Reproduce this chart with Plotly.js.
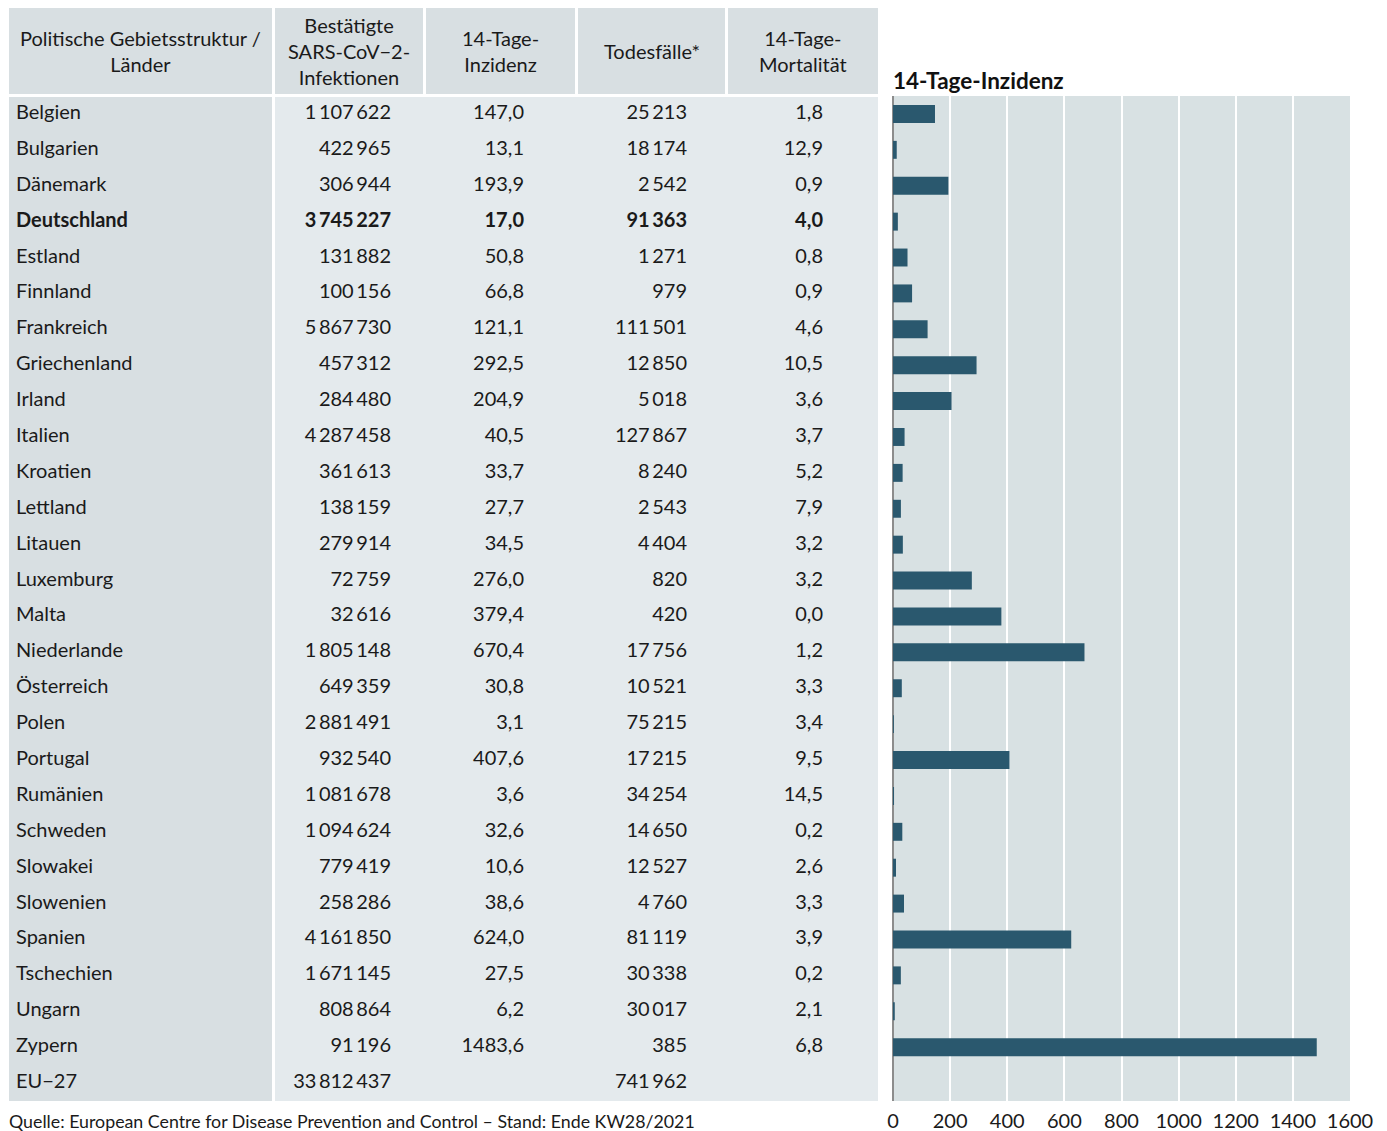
<!DOCTYPE html>
<html>
<head>
<meta charset="utf-8">
<script src="https://cdn.plot.ly/plotly-3.0.1.min.js"></script>
<style>html,body{margin:0;padding:0;background:#fff;}</style>
</head>
<body>
<div id="chart" style="width:1387px;height:1131px;"></div>
<script>
// ---------- data ----------
const countries = ["Belgien","Bulgarien","Dänemark","Deutschland","Estland","Finnland","Frankreich","Griechenland","Irland","Italien","Kroatien","Lettland","Litauen","Luxemburg","Malta","Niederlande","Österreich","Polen","Portugal","Rumänien","Schweden","Slowakei","Slowenien","Spanien","Tschechien","Ungarn","Zypern","EU\u221227"];
const infections = [1107622,422965,306944,3745227,131882,100156,5867730,457312,284480,4287458,361613,138159,279914,72759,32616,1805148,649359,2881491,932540,1081678,1094624,779419,258286,4161850,1671145,808864,91196,33812437];
const incidence14 = [147.0,13.1,193.9,17.0,50.8,66.8,121.1,292.5,204.9,40.5,33.7,27.7,34.5,276.0,379.4,670.4,30.8,3.1,407.6,3.6,32.6,10.6,38.6,624.0,27.5,6.2,1483.6,null];
const deaths = [25213,18174,2542,91363,1271,979,111501,12850,5018,127867,8240,2543,4404,820,420,17756,10521,75215,17215,34254,14650,12527,4760,81119,30338,30017,385,741962];
const mortality14 = [1.8,12.9,0.9,4.0,0.8,0.9,4.6,10.5,3.6,3.7,5.2,7.9,3.2,3.2,0.0,1.2,3.3,3.4,9.5,14.5,0.2,2.6,3.3,3.9,0.2,2.1,6.8,null];
const headers = ["Politische Gebietsstruktur /<br>Länder","Bestätigte<br>SARS-CoV\u22122-<br>Infektionen","14-Tage-<br>Inzidenz","Todesfälle*","14-Tage-<br>Mortalität"];
const boldRow = "Deutschland";
const chartTitle = "14-Tage-Inzidenz";
const sourceNote = "Quelle: European Centre for Disease Prevention and Control \u2013 Stand: Ende KW28/2021";

// ---------- helpers ----------
const W = 1387, H = 1131;
const FONT = "Lato, 'Noto Sans', sans-serif";
const FS = 20;
const px = x => x / W;
const py = y => 1 - y / H;
const fmtInt = n => String(n).replace(/\B(?=(\d{3})+(?!\d))/g, "\u2009");
const fmtDec = v => (v === null || v === undefined) ? "" : v.toFixed(1).replace(".", ",");
const emph = (arr) => arr.map((t, i) => countries[i] === boldRow ? "<b>" + t + "</b>" : t);

// column geometry (pixels)
const cols = [[9,272],[275,423],[426,575],[578,725],[728,878]];
const headTop = 8, headBot = 94, bodyTop = 97, bodyBot = 1101;
const plotTop = 96, plotBot = 1101, plotL = 893, plotR = 1350;

const textTrace = (vals, xpos, pos) => ({
  type: "scatter", mode: "text", xaxis: "x2", yaxis: "y",
  x: countries.map(() => xpos), y: countries, text: emph(vals),
  textposition: pos, cliponaxis: false, hoverinfo: "skip",
  textfont: {family: FONT, size: FS, color: "#1a1a1a"}, showlegend: false
});

const traces = [
  {
    type: "bar", orientation: "h", x: incidence14, y: countries,
    xaxis: "x", yaxis: "y", width: 0.5,
    marker: {color: "#2a586e"}, hoverinfo: "skip", showlegend: false
  },
  textTrace(countries, 16, "middle right"),
  textTrace(infections.map(fmtInt), 391, "middle left"),
  textTrace(incidence14.map(fmtDec), 524, "middle left"),
  textTrace(deaths.map(fmtInt), 687, "middle left"),
  textTrace(mortality14.map(fmtDec), 823, "middle left")
];

const shapes = [];
const rect = (x0, x1, y0, y1, color) => shapes.push({
  type: "rect", xref: "paper", yref: "paper", layer: "below",
  x0: px(x0), x1: px(x1), y0: py(y1), y1: py(y0),
  fillcolor: color, line: {width: 0}
});
cols.forEach(c => rect(c[0], c[1], headTop, headBot, "#d8dfe2"));
rect(cols[0][0], cols[0][1], bodyTop, bodyBot, "#d8dfe2");
rect(cols[1][0], cols[4][1], bodyTop, bodyBot, "#e4eaed");
rect(plotL, plotR, plotTop, plotBot, "#d8e1e3");

const annotations = [];
const headY = (headTop + headBot) / 2;
headers.forEach((h, i) => annotations.push({
  xref: "paper", yref: "paper", x: px((cols[i][0] + cols[i][1]) / 2), y: py(headY),
  xanchor: "center", yanchor: "middle", align: "center", showarrow: false,
  text: h, font: {family: FONT, size: FS, color: "#1a1a1a"}
}));
annotations.push({
  xref: "paper", yref: "paper", x: px(plotL - 1), y: py(81), xanchor: "left", yanchor: "middle",
  showarrow: false, borderpad: 0, text: "<b>" + chartTitle + "</b>", font: {family: FONT, size: 22.5, color: "#111"}
});
annotations.push({
  xref: "paper", yref: "paper", x: px(8), y: py(1121), xanchor: "left", yanchor: "middle",
  showarrow: false, borderpad: 0, text: sourceNote, font: {family: FONT, size: 17.8, color: "#1a1a1a"}
});

const layout = {
  width: W, height: H, autosize: false,
  margin: {l: 0, r: 0, t: 0, b: 0, pad: 0},
  paper_bgcolor: "#ffffff", plot_bgcolor: "rgba(0,0,0,0)",
  showlegend: false, bargap: 0.5,
  font: {family: FONT, size: FS, color: "#1a1a1a"},
  xaxis: {
    domain: [px(plotL), px(plotR)], range: [0, 1600], dtick: 200, tick0: 0,
    showgrid: true, gridcolor: "#ffffff", gridwidth: 2,
    zeroline: true, zerolinecolor: "#8c8c8c", zerolinewidth: 2,
    showline: false, ticks: "", tickformat: "d", ticklabelstandoff: 6,
    tickfont: {family: FONT, size: FS, color: "#1a1a1a"}, anchor: "y", fixedrange: true
  },
  xaxis2: {domain: [0, px(880)], range: [0, 880], visible: false, anchor: "y", fixedrange: true},
  yaxis: {
    domain: [py(plotBot), py(plotTop)], type: "category",
    range: [countries.length - 0.5, -0.5], autorange: false,
    showticklabels: false, showgrid: false, zeroline: false, ticks: "", fixedrange: true
  },
  shapes: shapes, annotations: annotations
};

Plotly.newPlot("chart", traces, layout, {staticPlot: true, displayModeBar: false});
</script>
</body>
</html>
